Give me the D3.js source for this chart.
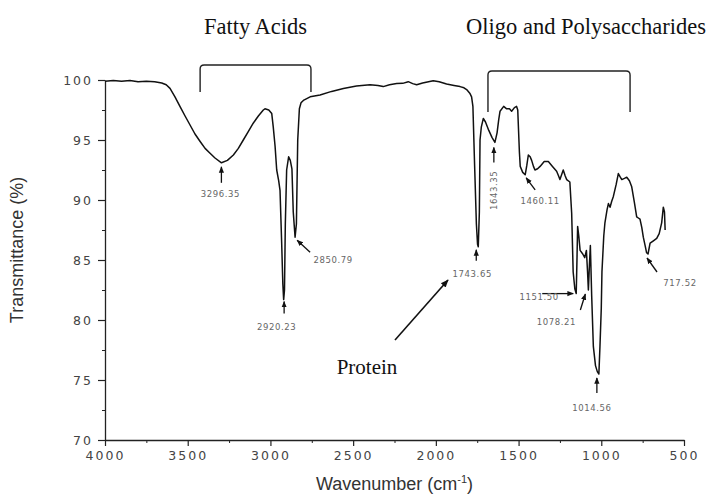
<!DOCTYPE html>
<html>
<head>
<meta charset="utf-8">
<script src="https://cdn.jsdelivr.net/npm/d3@7"></script>
<style>
  body { margin: 0; background: #fff; }
  .tick text { font-family: "DejaVu Sans", sans-serif; }
</style>
</head>
<body>
<div class="visHolder"></div>
<script>
// FTIR spectrum, transmittance vs wavenumber

// spectrum
var wavenumber = [4000, 3950, 3900, 3849, 3800, 3750, 3700, 3657, 3630, 3607, 3577, 3547, 3516, 3486, 3456, 3426, 3395, 3365, 3335, 3296,
    3260, 3224, 3194, 3164, 3134, 3104, 3073, 3043, 3033, 3010, 2992, 2983, 2972, 2962, 2950, 2942, 2932, 2925, 2920, 2915,
    2910, 2902, 2890, 2880, 2870, 2862, 2851, 2843, 2835, 2825, 2815, 2801, 2760, 2700, 2630, 2559, 2480, 2398, 2350, 2318,
    2280, 2237, 2200, 2167, 2140, 2116, 2080, 2016, 1980, 1935, 1890, 1854, 1830, 1814, 1795, 1784, 1776, 1766, 1755, 1748,
    1743.65, 1737, 1733, 1725, 1713, 1700, 1680, 1660, 1643, 1630, 1620, 1612, 1590, 1572, 1555, 1542, 1525, 1512, 1505, 1495,
    1490, 1475, 1460, 1450, 1441, 1430, 1421, 1410, 1401, 1385, 1370, 1345, 1320, 1295, 1270, 1258, 1250, 1240, 1230, 1218,
    1209, 1190, 1179, 1170, 1160, 1151.5, 1147, 1143, 1136, 1128, 1112, 1100, 1090, 1083, 1078, 1072, 1066, 1058, 1048, 1035,
    1024, 1014.56, 1008, 1000, 996, 985, 978, 965, 957, 947, 937, 927, 910, 897, 885, 876, 860, 846, 830, 816,
    800, 786, 776, 766, 755, 746, 735, 726, 717.5, 705, 685, 665, 650, 635, 625, 618, 614];
var transmittance = [99.9, 99.95, 99.9, 99.95, 99.85, 99.9, 99.85, 99.75, 99.6, 99.3, 98.6, 97.8, 97.0, 96.25, 95.5, 94.9, 94.3, 93.9, 93.5, 93.1,
    93.3, 93.75, 94.3, 95.0, 95.7, 96.4, 97.0, 97.5, 97.6, 97.5, 97.2, 96.1, 94.5, 92.5, 91.6, 90.8, 86.4, 83, 81.7, 82.5,
    88, 92.5, 93.6, 93.3, 92.6, 89, 86.9, 88, 95, 97.6, 98.1, 98.3, 98.6, 98.75, 99.05, 99.3, 99.5, 99.6, 99.55, 99.45,
    99.6, 99.7, 99.72, 99.86, 99.7, 99.6, 99.75, 99.94, 99.85, 99.67, 99.55, 99.45, 99.35, 99.2, 98.9, 98.6, 97.8, 93, 88, 86.3,
    86.1, 89, 95, 96.1, 96.8, 96.5, 95.8, 95.2, 94.8, 95.6, 96.7, 97.4, 97.8, 97.6, 97.6, 97.4, 97.7, 97.8, 97.5, 94,
    92.8, 92.3, 92.1, 92.9, 93.75, 93.6, 93.3, 92.8, 92.5, 92.6, 92.8, 93.2, 93.2, 92.8, 92.4, 92.0, 91.7, 92.1, 92.5, 92.0,
    91.7, 91.5, 88.9, 84, 82.6, 82.2, 85, 87.8, 87, 85.8, 85.5, 85.2, 85.8, 84, 82.5, 84.5, 86.2, 82, 77.8, 76.2,
    75.7, 75.5, 77.8, 81, 84, 87, 88.1, 89.2, 89.7, 89.4, 89.9, 90.3, 91.3, 92.2, 91.9, 91.7, 91.8, 91.9, 91.6, 91.1,
    89.8, 88.6, 88.5, 88.4, 87.7, 86.9, 86.2, 85.6, 85.5, 86.4, 86.6, 86.8, 87.2, 88.1, 89.4, 89.0, 87.5];

// labelled peaks
var peakLabels = ["3296.35", "2920.23", "2850.79", "1743.65", "1643.35", "1460.11", "1151.50", "1078.21", "1014.56", "717.52"];
var peakWn = [3296.35, 2920.23, 2850.79, 1743.65, 1643.35, 1460.11, 1151.50, 1078.21, 1014.56, 717.52];
var peakT = [93.1, 81.7, 86.9, 86.1, 94.8, 92.1, 82.2, 82.5, 75.5, 85.5];

// band regions
var regionLabels = ["Fatty Acids", "Oligo and Polysaccharides"];
var regionFrom = [3425, 1685];
var regionTo = [2755, 826];

var xTicks = [4000, 3500, 3000, 2500, 2000, 1500, 1000, 500];
var yTicks = [70, 75, 80, 85, 90, 95, 100];

// layout
var margin = { top: 80, right: 28, bottom: 58, left: 105 },
    width = 712 - margin.left - margin.right,
    height = 498 - margin.top - margin.bottom;

var svg = d3.select(".visHolder")
    .append("svg")
    .attr("width", 712)
    .attr("height", 498)
    .append("g")
    .attr("transform", "translate(" + margin.left + "," + margin.top + ")");

var x = d3.scaleLinear().domain([4000, 500]).range([0, width]);
var y = d3.scaleLinear().domain([70, 100]).range([height, 0]);

// minor ticks first so the major ones sit on top
svg.append("g")
    .attr("transform", "translate(0," + height + ")")
    .call(d3.axisBottom(x).tickValues(d3.range(3750, 500, -500)).tickSize(3).tickFormat(""))
    .call(g => g.select(".domain").remove())
    .selectAll("line").attr("stroke", "#222");

svg.append("g")
    .call(d3.axisLeft(y).tickValues(d3.range(72.5, 100, 5)).tickSize(3).tickFormat(""))
    .call(g => g.select(".domain").remove())
    .selectAll("line").attr("stroke", "#222");

var xAxis = svg.append("g")
    .attr("id", "x-axis")
    .attr("transform", "translate(0," + height + ")")
    .call(d3.axisBottom(x).tickValues(xTicks).tickFormat(d3.format("d"))
        .tickSize(6).tickSizeOuter(0).tickPadding(5));

var yAxis = svg.append("g")
    .attr("id", "y-axis")
    .call(d3.axisLeft(y).tickValues(yTicks).tickSize(7).tickSizeOuter(0).tickPadding(5));

[xAxis, yAxis].forEach(function(a) {
    a.select(".domain").attr("stroke", "#222").attr("stroke-width", 1.3);
    a.selectAll(".tick line").attr("stroke", "#222").attr("stroke-width", 1.2);
    a.selectAll(".tick text")
        .style("font-size", "12.5px")
        .style("letter-spacing", "2px")
        .attr("fill", "#444");
});

// axis titles
svg.append("text")
    .attr("transform", "translate(-82," + (height / 2 - 10) + ") rotate(-90)")
    .attr("text-anchor", "middle")
    .style("font-family", "'Liberation Sans', Arial, sans-serif")
    .style("font-size", "18px")
    .attr("fill", "#333")
    .text("Transmittance (%)");

var xt = svg.append("text")
    .attr("x", width / 2)
    .attr("y", height + 50)
    .attr("text-anchor", "middle")
    .style("font-family", "'Liberation Sans', Arial, sans-serif")
    .style("font-size", "18px")
    .attr("fill", "#333")
    .text("Wavenumber (cm");
xt.append("tspan").attr("dy", -7).style("font-size", "11px").text("-1");
xt.append("tspan").attr("dy", 7).text(")");

// spectrum
var pts = wavenumber.map((w, i) => [w, transmittance[i]]);
svg.append("path")
    .datum(pts)
    .attr("fill", "none")
    .attr("stroke", "#111")
    .attr("stroke-width", 1.5)
    .attr("stroke-linejoin", "round")
    .attr("d", d3.line().x(d => x(d[0])).y(d => y(d[1])));

// peak labels and small arrows
var peakLayout = [
    { tx: -1, ty: 32, a: [0, 20, 0, 4] },
    { tx: -7, ty: 28, a: [0.5, 14, 0.5, 2] },
    { tx: 38, ty: 23, a: [15, 15, 2, 3] },
    { tx: -6, ty: 28, a: [-2, 14, -2, 3] },
    { tx: 0, ty: 48, a: [-1, 20, -1, 5], rot: true },
    { tx: 15, ty: 27, a: [10, 15, 1, 3] },
    { tx: -37, ty: 4, a: [-34, 0, -3, 0] },
    { tx: -32, ty: 32, a: [-8, 20, -3, 4] },
    { tx: -7, ty: 34, a: [-2, 19, -2, 4] },
    { tx: 32, ty: 29, a: [9, 18, -1, 4] }
];

svg.append("defs").append("marker")
    .attr("id", "head")
    .attr("viewBox", "0 0 10 10")
    .attr("refX", 9).attr("refY", 5)
    .attr("markerWidth", 5).attr("markerHeight", 5)
    .attr("orient", "auto")
    .append("path").attr("d", "M0,1L10,5L0,9Z").attr("fill", "#111");

peakLabels.forEach(function(lab, i) {
    var px = x(peakWn[i]), py = y(peakT[i]), L = peakLayout[i];
    svg.append("line")
        .attr("x1", px + L.a[0]).attr("y1", py + L.a[1])
        .attr("x2", px + L.a[2]).attr("y2", py + L.a[3])
        .attr("stroke", "#111").attr("stroke-width", 1.3)
        .attr("marker-end", "url(#head)");
    var t = svg.append("text")
        .attr("text-anchor", "middle")
        .attr("dominant-baseline", "middle")
        .style("font-family", "'DejaVu Sans', sans-serif")
        .style("font-size", "8.5px")
        .style("letter-spacing", "0.6px")
        .attr("fill", "#666")
        .text(lab);
    if (L.rot) t.attr("transform", "translate(" + (px + L.tx) + "," + (py + L.ty) + ") rotate(-90)");
    else t.attr("x", px + L.tx).attr("y", py + L.ty);
});

// band brackets
var bracketTop = [-15, -9], bracketBot = [12, 32], labelX = [0, 27];
regionLabels.forEach(function(lab, i) {
    var x0 = x(regionFrom[i]), x1 = x(regionTo[i]), yt = bracketTop[i], yb = bracketBot[i], r = 4;
    var p = d3.path();
    p.moveTo(x0, yb);
    p.lineTo(x0, yt + r);
    p.quadraticCurveTo(x0, yt, x0 + r, yt);
    p.lineTo(x1 - r, yt);
    p.quadraticCurveTo(x1, yt, x1, yt + r);
    p.lineTo(x1, yb);
    svg.append("path").attr("d", p.toString())
        .attr("fill", "none").attr("stroke", "#222").attr("stroke-width", 1.4);
    svg.append("text")
        .attr("x", (x0 + x1) / 2 + labelX[i])
        .attr("y", -46)
        .attr("text-anchor", "middle")
        .style("font-family", "'Liberation Serif', 'Times New Roman', serif")
        .style("font-size", "22.5px")
        .attr("fill", "#111")
        .text(lab);
});

// protein arrow
svg.append("line")
    .attr("x1", 290).attr("y1", 260)
    .attr("x2", 343).attr("y2", 200)
    .attr("stroke", "#111").attr("stroke-width", 1.6)
    .attr("marker-end", "url(#head)");
svg.append("text")
    .attr("x", 262).attr("y", 294)
    .attr("text-anchor", "middle")
    .style("font-family", "'Liberation Serif', 'Times New Roman', serif")
    .style("font-size", "21px")
    .attr("fill", "#111")
    .text("Protein");
</script>
</body>
</html>
